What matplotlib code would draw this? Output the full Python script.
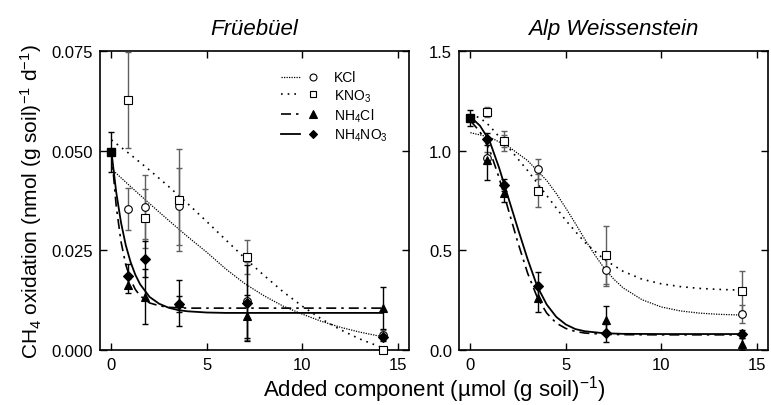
import matplotlib

matplotlib.use("Agg")
import matplotlib.pyplot as plt
from matplotlib.lines import Line2D
from matplotlib.legend_handler import HandlerTuple
from matplotlib.ticker import FormatStrFormatter

plt.rcParams["font.family"] = ["Liberation Sans", "DejaVu Sans"]
plt.rcParams["mathtext.fontset"] = "custom"
plt.rcParams["mathtext.rm"] = "Liberation Sans"
plt.rcParams["mathtext.it"] = "Liberation Sans:italic"

# ---- measured points (x = added amount, µmol per g soil) ----
dose = [0.89, 1.78, 3.56, 7.12, 14.24]

# Früebüel
fr_ctrl, fr_ctrl_err = 0.0497, 0.0050
fr_kcl = [0.0353, 0.0358, 0.0360, 0.0122, 0.0038]
fr_kcl_err = [0.0053, 0.0080, 0.0096, 0.0098, 0.0012]
fr_kno3 = [0.0627, 0.0330, 0.0376, 0.0233, 0.0001]
fr_kno3_err = [0.0120, 0.0075, 0.0128, 0.0043, 0.0000]
fr_nh4cl = [0.0163, 0.0134, 0.0118, 0.0084, 0.0105]
fr_nh4cl_err = [0.0020, 0.0070, 0.0058, 0.0055, 0.0052]
fr_nh4no3 = [0.0186, 0.0228, 0.0115, 0.0118, 0.0032]
fr_nh4no3_err = [0.0030, 0.0045, 0.0020, 0.0095, 0.0010]

# Alp Weissenstein
aw_ctrl, aw_ctrl_err = 1.166, 0.040
aw_kcl = [0.965, 1.049, 0.910, 0.400, 0.180]
aw_kcl_err = [0.030, 0.030, 0.050, 0.080, 0.045]
aw_kno3 = [1.194, 1.047, 0.800, 0.476, 0.294]
aw_kno3_err = [0.025, 0.050, 0.085, 0.145, 0.100]
aw_nh4cl = [0.954, 0.790, 0.259, 0.150, 0.030]
aw_nh4cl_err = [0.100, 0.050, 0.070, 0.070, 0.030]
aw_nh4no3 = [1.057, 0.830, 0.320, 0.085, 0.080]
aw_nh4no3_err = [0.030, 0.030, 0.070, 0.045, 0.020]

# ---- fitted curves ----
fr_kcl_fx = [0, 1, 2, 3, 4, 5, 6, 7, 8, 9, 10, 11, 12, 13, 14.24]
fr_kcl_fy = [0.0454, 0.0410, 0.0367, 0.0325, 0.0284, 0.0245, 0.0203, 0.0166,
             0.0136, 0.0110, 0.0090, 0.0072, 0.0057, 0.0045, 0.0033]
fr_kno3_fx = [0, 1, 2, 3, 4, 5, 6, 7, 8, 9, 10, 11, 12, 13, 14.24]
fr_kno3_fy = [0.0527, 0.0490, 0.0451, 0.0410, 0.0367, 0.0322, 0.0276, 0.0230,
              0.0187, 0.0146, 0.0110, 0.0078, 0.0051, 0.0028, 0.0005]
fr_nh4cl_fx = [0, 0.25, 0.5, 0.75, 1, 1.25, 1.5, 2, 2.5, 3, 4, 6, 10, 14.24]
fr_nh4cl_fy = [0.0497, 0.0361, 0.0272, 0.0214, 0.0177, 0.0152, 0.0136, 0.0118,
               0.0111, 0.0107, 0.0105, 0.0105, 0.0105, 0.0105]
fr_nh4no3_fx = [0, 0.25, 0.5, 0.75, 1, 1.25, 1.5, 2, 2.5, 3, 3.5, 4, 5, 6, 8,
                10, 12, 14.24]
fr_nh4no3_fy = [0.0497, 0.0396, 0.0320, 0.0263, 0.0221, 0.0189, 0.0165, 0.0133,
                0.0116, 0.0106, 0.0100, 0.0097, 0.0094, 0.0093, 0.0093, 0.0093,
                0.0093, 0.0093]

aw_kcl_fx = [0, 1, 2, 3, 4, 4.5, 5, 5.5, 6, 6.5, 7, 7.5, 8, 9, 10, 11, 12, 13, 14.24]
aw_kcl_fy = [1.090, 1.068, 1.020, 0.950, 0.850, 0.785, 0.712, 0.635, 0.555, 0.480,
             0.412, 0.357, 0.312, 0.252, 0.216, 0.196, 0.185, 0.179, 0.175]
aw_kno3_fx = [0, 0.5, 1, 2, 3, 4, 5, 6, 7, 8, 9, 10, 11, 12, 13, 14.24]
aw_kno3_fy = [1.180, 1.165, 1.125, 1.015, 0.900, 0.775, 0.650, 0.540, 0.455, 0.395,
              0.355, 0.332, 0.318, 0.309, 0.304, 0.300]
aw_nh4cl_fx = [0, 0.5, 1, 1.5, 2, 2.5, 3, 3.5, 4, 4.5, 5, 5.5, 6, 7, 8, 10, 12, 14.24]
aw_nh4cl_fy = [1.150, 1.095, 1.005, 0.865, 0.700, 0.535, 0.385, 0.265, 0.185, 0.135,
               0.108, 0.093, 0.085, 0.079, 0.077, 0.076, 0.076, 0.076]
aw_nh4no3_fx = [0, 0.5, 1, 1.5, 2, 2.5, 3, 3.5, 4, 4.5, 5, 5.5, 6, 7, 8, 10, 12, 14.24]
aw_nh4no3_fy = [1.170, 1.125, 1.050, 0.915, 0.760, 0.605, 0.455, 0.320, 0.228, 0.166,
                0.128, 0.105, 0.094, 0.084, 0.081, 0.080, 0.080, 0.080]

labels = ["KCl", "KNO$_3$", "NH$_4$Cl", "NH$_4$NO$_3$"]

# style per treatment: linestyle, lw, marker, ms, facecolor, errcolor
STYLES = [
    ((0, (1, 1)), 0.9, "o", 5.5, "white", "#606060"),
    ((0, (1, 3)), 1.2, "s", 5.2, "white", "#606060"),
    ((0, (6, 3, 1.5, 3)), 1.2, "^", 6.0, "black", "black"),
    ("-", 1.3, "D", 5.0, "black", "black"),
]


def draw_panel(ax, ctrl, ctrl_err, series, fits):
    for (y, yerr), (fx, fy), st in zip(series, fits, STYLES):
        ls, lw, mk, ms, fc, ec = st
        ax.plot(fx, fy, linestyle=ls, color="black", lw=lw, zorder=3)
        ax.errorbar(dose, y, yerr=yerr, fmt="none", ecolor=ec, elinewidth=1.0,
                    capsize=2.2, capthick=1.0, zorder=4)
        ax.plot(dose, y, linestyle="none", marker=mk, ms=ms, mfc=fc, mec="black",
                mew=0.8, zorder=5, clip_on=False)
    ax.errorbar([0], [ctrl], yerr=[ctrl_err], fmt="none", ecolor="black",
                elinewidth=1.0, capsize=2.2, capthick=1.0, zorder=4)
    ax.plot([0], [ctrl], linestyle="none", marker="s", ms=6, mfc="black",
            mec="black", zorder=6)
    ax.set_xlim(-0.6, 15.6)
    ax.set_xticks([0, 5, 10, 15])
    ax.tick_params(direction="in", top=True, right=True, length=5, width=1.0,
                   labelsize=12, pad=5)
    for s in ax.spines.values():
        s.set_linewidth(1.2)


fig = plt.figure(figsize=(7.71, 4.06), dpi=100)
ax1 = fig.add_axes([0.1297, 0.1355, 0.4008, 0.7365])
ax2 = fig.add_axes([0.5953, 0.1355, 0.4008, 0.7365])

draw_panel(
    ax1, fr_ctrl, fr_ctrl_err,
    [(fr_kcl, fr_kcl_err), (fr_kno3, fr_kno3_err),
     (fr_nh4cl, fr_nh4cl_err), (fr_nh4no3, fr_nh4no3_err)],
    [(fr_kcl_fx, fr_kcl_fy), (fr_kno3_fx, fr_kno3_fy),
     (fr_nh4cl_fx, fr_nh4cl_fy), (fr_nh4no3_fx, fr_nh4no3_fy)],
)
draw_panel(
    ax2, aw_ctrl, aw_ctrl_err,
    [(aw_kcl, aw_kcl_err), (aw_kno3, aw_kno3_err),
     (aw_nh4cl, aw_nh4cl_err), (aw_nh4no3, aw_nh4no3_err)],
    [(aw_kcl_fx, aw_kcl_fy), (aw_kno3_fx, aw_kno3_fy),
     (aw_nh4cl_fx, aw_nh4cl_fy), (aw_nh4no3_fx, aw_nh4no3_fy)],
)

ax1.set_ylim(0, 0.075)
ax1.set_yticks([0, 0.025, 0.05, 0.075])
ax1.yaxis.set_major_formatter(FormatStrFormatter("%.3f"))
ax2.set_ylim(0, 1.5)
ax2.set_yticks([0, 0.5, 1.0, 1.5])
ax2.yaxis.set_major_formatter(FormatStrFormatter("%.1f"))

ax1.set_title("Früebüel", style="italic", fontsize=16, pad=12)
ax2.set_title("Alp Weissenstein", style="italic", fontsize=16, pad=12)
ax1.set_ylabel("CH$_4$ oxidation (nmol (g soil)$^{-1}$ d$^{-1}$)", fontsize=15,
               labelpad=5)
fig.text(0.563, 0.04, "Added component (µmol (g soil)$^{-1}$)", fontsize=16,
         ha="center", va="center")

# legend: line sample, then marker, then label
handles = []
for st in STYLES:
    ls, lw, mk, ms, fc, ec = st
    ln = Line2D([], [], linestyle=ls, color="black", lw=lw)
    mk_h = Line2D([], [], linestyle="none", marker=mk, ms=ms - 0.5, mfc=fc,
                  mec="black", mew=0.8)
    handles.append((ln, mk_h))
ax1.legend(handles, labels, handler_map={tuple: HandlerTuple(ndivide=None, pad=0.3)},
           loc="upper left", bbox_to_anchor=(0.585, 0.935), frameon=False,
           fontsize=10, handlelength=3.0, handletextpad=0.8, labelspacing=0.2,
           borderpad=0, borderaxespad=0)

fig.savefig("out.png", dpi=100)
